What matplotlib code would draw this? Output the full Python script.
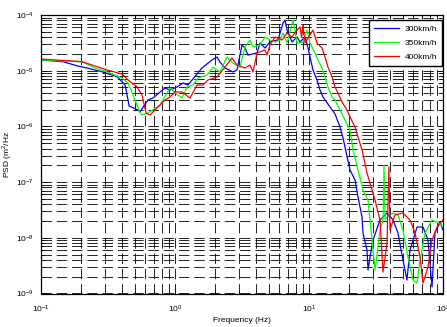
import numpy as np
import matplotlib
matplotlib.use("Agg")
import matplotlib.pyplot as plt
from matplotlib import ticker

# PSD curves for the three running speeds (frequency in Hz, PSD in m^2/Hz)
freq_300 = [0.100, 0.146, 0.189, 0.220, 0.285, 0.369, 0.424, 0.446, 0.454, 0.529,
            0.548, 0.629, 0.685, 0.842, 0.917, 1.035, 1.147, 1.250, 1.590, 1.618,
            1.889, 2.058, 2.167, 2.361, 2.708, 2.902, 3.163, 3.329, 3.506, 4.093,
            4.306, 4.693, 5.117, 5.871, 6.399, 6.623, 6.855, 7.470, 8.141, 8.573,
            9.342, 9.84, 10.17, 10.71, 11.47, 12.08, 12.72, 14.35, 15.64, 17.04,
            17.94, 20.24, 22.05, 23.21, 24.03, 24.87, 25.30, 27.10, 27.57, 28.53,
            30.04, 33.89, 38.22, 42.36, 46.16, 50.24, 53.8, 56.7, 64.0, 70.9,
            77.3, 82.8, 87.1, 95.0, 100.0]
psd_300 = [1.56e-5, 1.45e-5, 1.21e-5, 1.12e-5, 9.57e-6, 7.8e-6, 5.54e-6, 2.98e-6, 2.32e-6, 1.97e-6,
           1.84e-6, 2.98e-6, 3.24e-6, 4.89e-6, 4.50e-6, 5.10e-6, 6.01e-6, 5.54e-6, 1.12e-5, 1.16e-5,
           1.56e-5, 1.76e-5, 1.43e-5, 1.12e-5, 9.48e-6, 1.03e-5, 2.89e-5, 2.56e-5, 1.91e-5, 2.08e-5,
           3.14e-5, 2.56e-5, 3.28e-5, 3.56e-5, 7.18e-5, 8.13e-5, 5.38e-5, 3.28e-5, 4.03e-5, 3.28e-5,
           4.03e-5, 2.56e-5, 1.76e-5, 1.03e-5, 6.81e-6, 4.50e-6, 3.37e-6, 2.23e-6, 1.67e-6, 9.75e-7,
           6.19e-7, 1.65e-7, 1.09e-7, 5.40e-8, 3.57e-8, 2.36e-8, 1.22e-8, 6.04e-9, 2.64e-9, 4.52e-9,
           9.13e-9, 2.09e-8, 2.79e-8, 2.09e-8, 1.22e-8, 3.99e-9, 1.75e-9, 6.04e-9, 1.56e-8, 1.56e-8,
           9.13e-9, 1.31e-9, 1.22e-8, 1.92e-8, 1.38e-8]

freq_350 = [0.100, 0.202, 0.253, 0.327, 0.402, 0.446, 0.486, 0.548, 0.567, 0.629,
            0.773, 0.917, 1.053, 1.128, 1.229, 1.362, 1.485, 1.733, 1.921, 2.167,
            2.443, 2.708, 3.055, 3.329, 3.630, 3.820, 4.306, 4.693, 5.117, 5.575,
            6.077, 6.399, 6.855, 7.600, 8.141, 9.026, 9.669, 10.17, 11.08, 11.67,
            12.50, 13.16, 13.86, 14.85, 15.64, 17.04, 18.57, 20.24, 21.31, 23.21,
            25.30, 27.57, 29.53, 31.09, 32.74, 33.89, 35.68, 36.3, 37.0, 38.22,
            42.36, 46.16, 50.24, 54.8, 59.7, 64.0, 67.4, 73.5, 82.8, 90.2, 100.0]
psd_350 = [1.56e-5, 1.45e-5, 1.12e-5, 9.09e-6, 7.40e-6, 6.01e-6, 3.66e-6, 1.74e-6, 1.60e-6, 1.74e-6,
           2.42e-6, 4.89e-6, 3.66e-6, 3.24e-6, 5.10e-6, 5.54e-6, 7.40e-6, 8.37e-6, 1.16e-5, 9.48e-6,
           1.76e-5, 1.37e-5, 1.16e-5, 2.66e-5, 3.56e-5, 2.66e-5, 2.89e-5, 4.03e-5, 3.56e-5, 3.28e-5,
           3.56e-5, 4.75e-5, 3.14e-5, 8.13e-5, 3.14e-5, 3.28e-5, 5.38e-5, 3.14e-5, 2.08e-5, 1.56e-5,
           1.12e-5, 7.70e-6, 5.10e-6, 3.37e-6, 2.98e-6, 1.97e-6, 1.30e-6, 8.62e-7, 3.77e-7, 1.65e-7,
           7.21e-8, 4.77e-8, 9.13e-9, 2.64e-9, 6.84e-9, 1.38e-8, 2.09e-8, 1.95e-7, 2.09e-8, 2.36e-8,
           2.79e-8, 2.57e-8, 1.38e-8, 4.52e-9, 1.75e-9, 1.54e-9, 3.99e-9, 1.22e-8, 2.09e-8, 1.92e-8, 1.56e-8]

freq_400 = [0.100, 0.202, 0.220, 0.311, 0.402, 0.446, 0.520, 0.567, 0.608, 0.651,
            0.709, 0.773, 0.842, 0.917, 1.000, 1.128, 1.294, 1.459, 1.618, 1.763,
            2.058, 2.361, 2.663, 2.902, 3.329, 3.630, 3.820, 4.093, 4.693, 4.861,
            5.117, 5.575, 6.290, 6.855, 7.470, 8.141, 8.573, 8.80, 9.026, 9.342,
            9.84, 10.71, 11.47, 12.50, 13.16, 13.86, 14.85, 15.64, 16.46, 17.63,
            19.22, 20.24, 22.05, 23.21, 24.87, 27.10, 29.53, 31.09, 33.89, 35.68,
            38.22, 39.5, 40.23, 43.84, 50.24, 56.7, 61.8, 67.4, 70.9, 77.3,
            82.8, 90.2, 100.0]
psd_400 = [1.62e-5, 1.45e-5, 1.36e-5, 1.03e-5, 8.72e-6, 6.81e-6, 5.14e-6, 3.66e-6, 1.74e-6, 1.60e-6,
           1.97e-6, 2.42e-6, 2.98e-6, 3.37e-6, 4.15e-6, 4.15e-6, 3.24e-6, 5.54e-6, 5.54e-6, 6.81e-6,
           7.70e-6, 1.16e-5, 1.69e-5, 1.26e-5, 1.12e-5, 1.26e-5, 9.48e-6, 2.08e-5, 2.35e-5, 1.91e-5,
           2.89e-5, 4.03e-5, 3.56e-5, 4.75e-5, 4.03e-5, 5.38e-5, 6.09e-5, 4.0e-5, 6.6e-5, 3.14e-5,
           3.86e-5, 5.38e-5, 3.14e-5, 2.56e-5, 1.76e-5, 1.16e-5, 7.70e-6, 5.10e-6, 3.98e-6, 2.74e-6,
           1.97e-6, 1.48e-6, 9.75e-7, 6.45e-7, 3.77e-7, 1.46e-7, 7.21e-8, 4.77e-8, 2.09e-8, 2.43e-9,
           8.06e-9, 1.87e-7, 1.38e-8, 2.57e-8, 2.79e-8, 2.09e-8, 1.22e-8, 4.52e-9, 1.54e-9, 2.99e-9,
           9.13e-9, 1.56e-8, 2.09e-8]

labels = ["300km/h", "350km/h", "400km/h"]
colors = ["#0000ff", "#00ff00", "#ff0000"]

plt.rcParams["font.family"] = ["Liberation Sans", "DejaVu Sans"]
plt.rcParams["mathtext.fontset"] = "custom"
plt.rcParams["mathtext.rm"] = "Liberation Sans"
plt.rcParams["lines.scale_dashes"] = False

dpi = 100
fig = plt.figure(figsize=(447 / dpi, 327 / dpi), dpi=dpi)
ax = fig.add_axes([41 / 447, 1 - 293.5 / 327, 402 / 447, 278.5 / 327])

for f, p, lab, c in zip([freq_300, freq_350, freq_400],
                        [psd_300, psd_350, psd_400], labels, colors):
    ax.loglog(f, p, color=c, lw=0.9, label=lab)

ax.set_xlim(0.1, 100)
ax.set_ylim(1e-9, 1e-4)

# dashed grid on every decade and sub-decade
ax.grid(True, which="both", color="k", lw=0.6, linestyle=(0, (7.5, 3.5)))
ax.xaxis.set_minor_formatter(ticker.NullFormatter())
ax.yaxis.set_minor_formatter(ticker.NullFormatter())
ax.tick_params(which="both", direction="in", top=True, right=True, labelsize=6, width=0.6)
ax.tick_params(which="major", length=4, pad=5)
ax.tick_params(which="minor", length=2.5)
ax.tick_params(axis="x", which="major", pad=7)
for s in ax.spines.values():
    s.set_linewidth(0.9)

ax.set_xlabel("Frequency (Hz)", fontsize=6, labelpad=2)
ax.set_ylabel("PSD (m$^2$/Hz", fontsize=6, labelpad=1.5)

leg = ax.legend(loc="upper right", bbox_to_anchor=(0.9975, 0.982), borderaxespad=0,
                fontsize=6, handlelength=3, handletextpad=0.6, labelspacing=0.75,
                fancybox=False, framealpha=1, edgecolor="k", borderpad=0.6)
leg.get_frame().set_linewidth(1.0)

fig.savefig("out.png", dpi=dpi)
